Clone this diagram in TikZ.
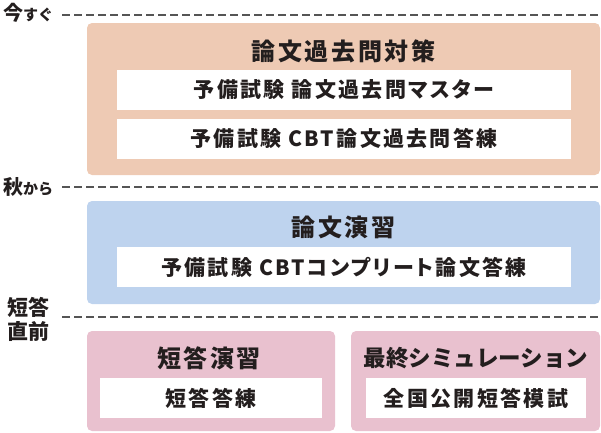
\documentclass[tikz,border=0pt]{standalone}
\usepackage{fontspec}
\newfontfamily\jpfont{Noto Sans CJK JP}
\newfontfamily\jpwide{Noto Sans CJK JP}[LetterSpace=11, RawFeature=+palt]
\usetikzlibrary{positioning}
\definecolor{ink}{RGB}{35, 30, 30}
\definecolor{dashgray}{RGB}{85, 85, 85}
\definecolor{pastorange}{RGB}{238, 202, 180}
\definecolor{drillblue}{RGB}{190, 211, 238}
\definecolor{shortpink}{RGB}{233, 193, 207}

\tikzset{
  stagebox/.style={rounded corners=5pt, inner sep=0pt},
  itembox/.style={fill=white, inner sep=0pt, minimum height=40, text=ink,
    font=\jpwide\bfseries\fontsize{21}{21}\selectfont},
  heading/.style={text=ink, inner sep=0pt, font=\jpwide\bfseries\fontsize{24}{24}\selectfont},
  timelabel/.style={text=ink, inner sep=0pt, anchor=west, font=\jpfont\bfseries\fontsize{20}{20}\selectfont},
  timeline/.style={dash pattern=on 8pt off 4pt, line width=1.5pt, draw=dashgray}
}

\begin{document}
\begin{tikzpicture}[x=1pt, y=-1pt]
  \useasboundingbox (0,0) rectangle (601,432);

  % Time marks
  \node[timelabel] (now) at (3,13) {今{\fontsize{15}{15}\selectfont すぐ}};
  \node[timelabel] (autumn) at (3,187) {秋{\fontsize{15}{15}\selectfont から}};
  \node[timelabel, align=left, font=\jpfont\bfseries\fontsize{21}{24}\selectfont] (before) at (7,319) {短答\\直前};
  \coordinate (now-a) at (62,15);     \coordinate (now-b) at (601,15);
  \coordinate (autumn-a) at (62,187); \coordinate (autumn-b) at (601,187);
  \coordinate (before-a) at (62,317); \coordinate (before-b) at (601,317);
  \draw[timeline] (now-a) -- (now-b);
  \draw[timeline] (autumn-a) -- (autumn-b);
  \draw[timeline] (before-a) -- (before-b);

  % Stage 1: past papers
  \node[stagebox, fill=pastorange, minimum width=513, minimum height=152] (kakomon) at (343.5,99) {};
  \node[heading] (kakomon-title) at (343.5,51) {論文過去問対策};
  \node[itembox, minimum width=454] (master) at (344,90) {予備試験 論文過去問マスター};
  \node[itembox, minimum width=454] (cbtpast) at (344,139) {予備試験 CBT論文過去問答練};

  % Stage 2: essay drills
  \node[stagebox, fill=drillblue, minimum width=513, minimum height=103] (ronbun) at (343.5,252.5) {};
  \node[heading] (ronbun-title) at (343.5,227) {論文演習};
  \node[itembox, minimum width=454] (complete) at (344,267) {予備試験 CBTコンプリート論文答練};

  % Stage 3: short answer
  \node[stagebox, fill=shortpink, minimum width=248, minimum height=100] (tanto) at (211,381) {};
  \node[heading] (tanto-title) at (209,358) {短答演習};
  \node[itembox, minimum width=222] (tantoren) at (211,398) {短答答練};

  \node[stagebox, fill=shortpink, minimum width=249, minimum height=100] (final) at (475.5,381) {};
  \node[heading, font=\jpfont\bfseries\fontsize{22.5}{22.5}\selectfont] (final-title) at (476,358) {最終シミュレーション};
  \node[itembox, minimum width=220] (moshi) at (476,398) {全国公開短答模試};
\end{tikzpicture}
\end{document}
